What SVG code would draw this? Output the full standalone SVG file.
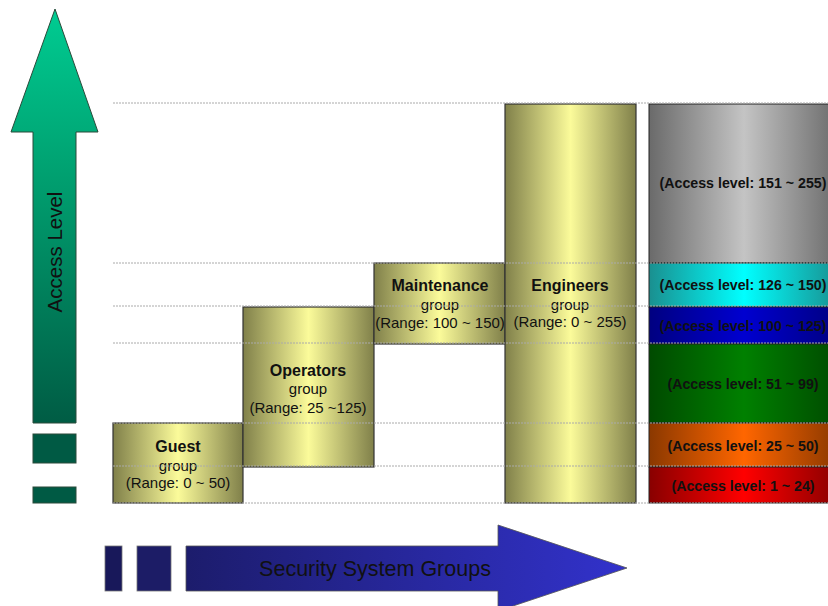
<svg xmlns="http://www.w3.org/2000/svg" width="828" height="606" viewBox="0 0 828 606">
<defs>
<linearGradient id="gY" x1="0" y1="0" x2="1" y2="0">
<stop offset="0" stop-color="#80804a"/><stop offset="0.5" stop-color="#fbfb9a"/><stop offset="1" stop-color="#80804a"/>
</linearGradient>
<linearGradient id="gGray" x1="0" y1="0" x2="1" y2="0">
<stop offset="0" stop-color="#6a6a6a"/><stop offset="0.5" stop-color="#c4c4c4"/><stop offset="1" stop-color="#6a6a6a"/>
</linearGradient>
<linearGradient id="gCyan" x1="0" y1="0" x2="1" y2="0">
<stop offset="0" stop-color="#1a8f8f"/><stop offset="0.5" stop-color="#00ffff"/><stop offset="1" stop-color="#1a8f8f"/>
</linearGradient>
<linearGradient id="gBlue" x1="0" y1="0" x2="1" y2="0">
<stop offset="0" stop-color="#000080"/><stop offset="0.5" stop-color="#0000d0"/><stop offset="1" stop-color="#000080"/>
</linearGradient>
<linearGradient id="gGreen" x1="0" y1="0" x2="1" y2="0">
<stop offset="0" stop-color="#004a00"/><stop offset="0.5" stop-color="#008000"/><stop offset="1" stop-color="#004a00"/>
</linearGradient>
<linearGradient id="gOrange" x1="0" y1="0" x2="1" y2="0">
<stop offset="0" stop-color="#8a3800"/><stop offset="0.5" stop-color="#ff6600"/><stop offset="1" stop-color="#8a3800"/>
</linearGradient>
<linearGradient id="gRed" x1="0" y1="0" x2="1" y2="0">
<stop offset="0" stop-color="#880000"/><stop offset="0.5" stop-color="#ff0000"/><stop offset="1" stop-color="#880000"/>
</linearGradient>
<linearGradient id="gUp" x1="0" y1="0" x2="0" y2="1">
<stop offset="0" stop-color="#00cc92"/><stop offset="0.4" stop-color="#00a070"/><stop offset="1" stop-color="#005c44"/>
</linearGradient>
<linearGradient id="gRight" gradientUnits="userSpaceOnUse" x1="104" y1="0" x2="628" y2="0">
<stop offset="0" stop-color="#18185a"/><stop offset="1" stop-color="#3232cc"/>
</linearGradient>
</defs>
<style>
.box{stroke:#333;stroke-width:1.2}
.band{stroke:#222;stroke-width:1}
.dot{stroke:#aaa;stroke-width:1;stroke-dasharray:2 1;fill:none}
text{font-family:"Liberation Sans",Arial,sans-serif;text-anchor:middle;fill:#111}
.t{font-weight:bold;font-size:16px}
.s{font-size:15px}
.r{font-weight:bold;font-size:14.2px;fill:#111}
</style>

<g id="access-level-arrow">
<path d="M55,9 L98,132 L76,132 L76,423 L33,423 L33,132 L11,132 Z" fill="url(#gUp)" stroke="#2a4a3a" stroke-width="1"/>
<rect x="33" y="434" width="43" height="29" fill="#005a44" stroke="#2a4a3a" stroke-width="1"/>
<rect x="33" y="487" width="43" height="16" fill="#005a44" stroke="#2a4a3a" stroke-width="1"/>
<text transform="translate(62,252) rotate(-90)" font-size="20.5" fill="#0d3326">Access Level</text>
</g>

<g id="groups-arrow">
<rect x="105" y="546" width="17" height="45" fill="#18185a" stroke="#777" stroke-width="0.8"/>
<rect x="137" y="546" width="34" height="45" fill="#1c1c66" stroke="#777" stroke-width="0.8"/>
<path d="M186,546 L498,546 L498,525 L627,568 L498,611 L498,591 L186,591 Z" fill="url(#gRight)" stroke="#555" stroke-width="0.8"/>
<text x="375" y="576" font-size="21.5" fill="#0d0d30">Security System Groups</text>
</g>

<g id="guest">
<rect class="box" x="113" y="423" width="130" height="80" fill="url(#gY)"/>
<text class="t" x="178" y="452">Guest</text>
<text class="s" x="178" y="471">group</text>
<text class="s" x="178" y="488">(Range: 0 ~ 50)</text>
</g>

<g id="operators">
<rect class="box" x="243" y="307" width="131" height="160" fill="url(#gY)"/>
<text class="t" x="308" y="376">Operators</text>
<text class="s" x="308" y="394">group</text>
<text class="s" x="308" y="413">(Range: 25 ~125)</text>
</g>

<g id="maintenance">
<rect class="box" x="374" y="263" width="131" height="81" fill="url(#gY)"/>
<text class="t" x="440" y="291">Maintenance</text>
<text class="s" x="440" y="310">group</text>
<text class="s" x="440" y="328">(Range: 100 ~ 150)</text>
</g>

<g id="engineers">
<rect class="box" x="505" y="104" width="131" height="399" fill="url(#gY)"/>
<text class="t" x="570" y="291">Engineers</text>
<text class="s" x="570" y="310">group</text>
<text class="s" x="570" y="327">(Range: 0 ~ 255)</text>
</g>

<g id="levels">
<rect class="band" x="649" y="104" width="190" height="159" fill="url(#gGray)"/>
<text class="r" x="743" y="188">(Access level: 151 ~ 255)</text>
<rect class="band" x="649" y="263" width="190" height="44" fill="url(#gCyan)"/>
<text class="r" x="743" y="290">(Access level: 126 ~ 150)</text>
<rect class="band" x="649" y="307" width="190" height="37" fill="url(#gBlue)"/>
<text class="r" x="743" y="331">(Access level: 100 ~ 125)</text>
<rect class="band" x="649" y="344" width="190" height="79" fill="url(#gGreen)"/>
<text class="r" x="743" y="389">(Access level: 51 ~ 99)</text>
<rect class="band" x="649" y="423" width="190" height="44" fill="url(#gOrange)"/>
<text class="r" x="743" y="451">(Access level: 25 ~ 50)</text>
<rect class="band" x="649" y="467" width="190" height="36" fill="url(#gRed)"/>
<text class="r" x="743" y="491">(Access level: 1 ~ 24)</text>
</g>

<g id="connectors">
<line class="dot" x1="113" y1="103" x2="828" y2="103"/>
<line class="dot" x1="113" y1="263" x2="828" y2="263"/>
<line class="dot" x1="113" y1="306" x2="828" y2="306"/>
<line class="dot" x1="113" y1="343" x2="828" y2="343"/>
<line class="dot" x1="113" y1="423" x2="828" y2="423"/>
<line class="dot" x1="113" y1="466" x2="828" y2="466"/>
<line class="dot" x1="113" y1="503" x2="828" y2="503"/>
</g>
</svg>
